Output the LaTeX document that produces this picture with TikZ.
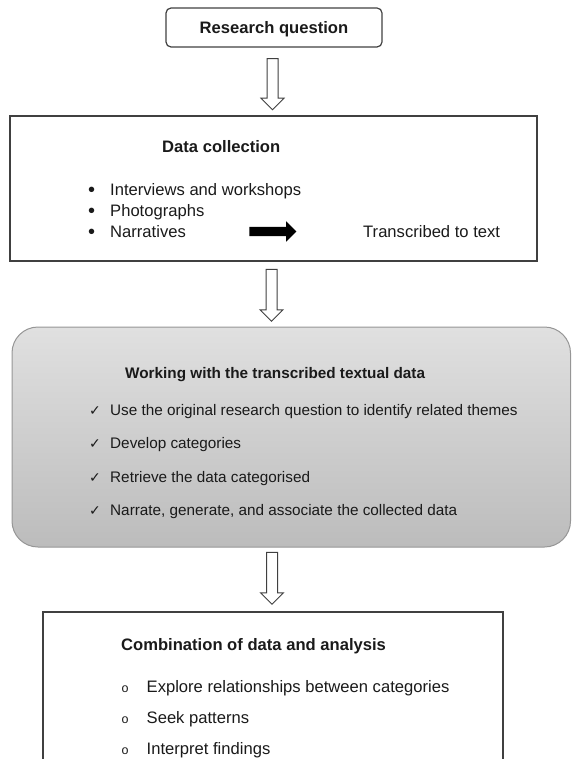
\documentclass[tikz,border=0pt]{standalone}
\usepackage{fontspec}
\setmainfont{Liberation Sans}
\newfontfamily\symfont{DejaVu Sans}
\usetikzlibrary{shapes.arrows}
\definecolor{BoxLine}{RGB}{64,64,64}
\definecolor{TxtCol} {RGB}{26,26,26}
\definecolor{WkTop}  {RGB}{224,224,224}
\definecolor{WkBot}  {RGB}{188,188,188}
\definecolor{WkLine} {RGB}{150,150,150}
\tikzset{
  box_plain/.style={rectangle,draw=BoxLine,line width=1.2pt,inner sep=0pt},
  box_round/.style={box_plain,rounded corners=5pt},
  box_work/.style={rectangle,rounded corners=26pt,draw=WkLine,line width=1pt,top color=WkTop,bottom color=WkBot,inner sep=0pt},
  txt_big/.style={inner sep=0pt,text=TxtCol,font=\fontsize{16.6}{20}\selectfont},
  hdr_big/.style={inner sep=0pt,text=TxtCol,font=\fontsize{16.6}{20}\selectfont\bfseries},
  txt_small/.style={inner sep=0pt,text=TxtCol,font=\fontsize{15.3}{18}\selectfont},
  hdr_small/.style={inner sep=0pt,text=TxtCol,font=\fontsize{15.3}{18}\selectfont\bfseries},
  arr_hollow/.style={single arrow,draw=BoxLine,fill=white,line width=1pt,minimum width=22pt,single arrow head extend=6pt,single arrow tip angle=90,minimum height=51pt,inner xsep=0pt,inner ysep=5pt,rotate=-90},
  arr_solid/.style={single arrow,fill=black,minimum width=20pt,single arrow head extend=5.5pt,single arrow tip angle=90,minimum height=47pt,inner xsep=0pt,inner ysep=4.5pt},
}
\newcommand{\chk}{\makebox[21pt][l]{{\symfont\fontsize{14}{16}\selectfont ✓}}}
\newcommand{\blt}{\makebox[22pt][l]{{\fontsize{20}{20}\selectfont\raisebox{-0.6pt}{\textbullet}}}}
\newcommand{\cir}{\makebox[25pt][l]{{\fontsize{12.5}{14}\selectfont o}}}

\begin{document}
\begin{tikzpicture}[x=1pt,y=-1pt]
\useasboundingbox (0,0) rectangle (572,759);
\clip (0,0) rectangle (572,759);
% top
\node[box_round,minimum width=216pt,minimum height=39pt] at (274,27.5)(rq){};
\node[hdr_big,anchor=base] at (274,33.5)(rqtext){Research question};
\node[arr_hollow] at (272.5,81.5)(ar1){};
% data collection
\node[box_plain,minimum width=527pt,minimum height=145pt] at (273.5,188.5)(dcbox){};
\node[hdr_big,anchor=base west] at (162,152.5)(dctitle){Data collection};
\foreach \y/\t [count=\i] in {195.5/Interviews and workshops,216.5/Photographs,237.5/Narratives}{
  \node[txt_big,anchor=base west] at (88,\y)(dc\i){\blt\t};}
\node[arr_solid] at (270.5,231.5)(tr){};
\node[txt_big,anchor=base west] at (363,237.5)(dcout){Transcribed to text};
\node[arr_hollow,minimum height=52pt] at (271.5,292.5)(ar2){};
% working with data
\node[box_work,minimum width=558.5pt,minimum height=220pt] at (291.25,437)(wkbox){};
\node[hdr_small,anchor=base west] at (125,378.5)(wktitle){Working with the transcribed textual data};
\foreach \y/\t [count=\i] in {415.5/Use the original research question to identify related themes,448.8/Develop categories,482.2/Retrieve the data categorised,515.5/{Narrate, generate, and associate the collected data}}{
  \node[txt_small,anchor=base west] at (89,\y)(wk\i){\chk\t};}
\node[arr_hollow,minimum height=52pt] at (272,575.5)(ar3){};
% combination
\node[box_plain,minimum width=460pt,minimum height=178pt] at (273,701)(cbbox){};
\node[hdr_big,anchor=base west] at (121,650.5)(cbtitle){Combination of data and analysis};
\foreach \y/\t [count=\i] in {692.5/Explore relationships between categories,723.5/Seek patterns,754.5/Interpret findings}{
  \node[txt_big,anchor=base west] at (121.5,\y)(cb\i){\cir\t};}
\end{tikzpicture}
\end{document}
